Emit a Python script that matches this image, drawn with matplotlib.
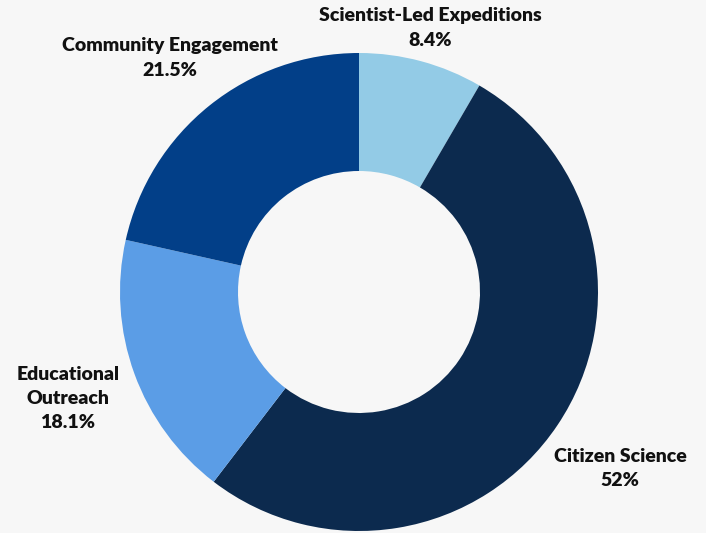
import matplotlib.pyplot as plt

# data
labels = ["Scientist-Led Expeditions", "Citizen Science", "Educational\nOutreach", "Community Engagement"]
values = [8.4, 52, 18.1, 21.5]
pct_text = ["8.4%", "52%", "18.1%", "21.5%"]
colors = ["#93cbe6", "#0c2a4e", "#5b9de6", "#023f88"]

# label anchor points in pixel space (x, y measured from top)
label_pos = [(430, 28), (620, 469), (68, 398), (170, 58)]

W, H = 706, 533
bg = "#f7f7f7"
fig = plt.figure(figsize=(W / 100, H / 100), dpi=100, facecolor=bg)
ax = fig.add_axes([0, 0, 1, 1])
ax.set_facecolor(bg)

ax.pie(values, colors=colors, startangle=90, counterclock=False,
       center=(359, H - 292), radius=239, frame=True,
       wedgeprops=dict(width=239 - 121, linewidth=0))
ax.set_xlim(0, W)
ax.set_ylim(0, H)
ax.axis("off")

for lab, p, (x, y) in zip(labels, pct_text, label_pos):
    ax.text(x, H - y, lab + "\n" + p, ha="center", va="center",
            fontsize=14, fontweight="heavy", family="Lato",
            color="#111111", linespacing=1.5)

fig.savefig("out.png", dpi=100, facecolor=bg)
